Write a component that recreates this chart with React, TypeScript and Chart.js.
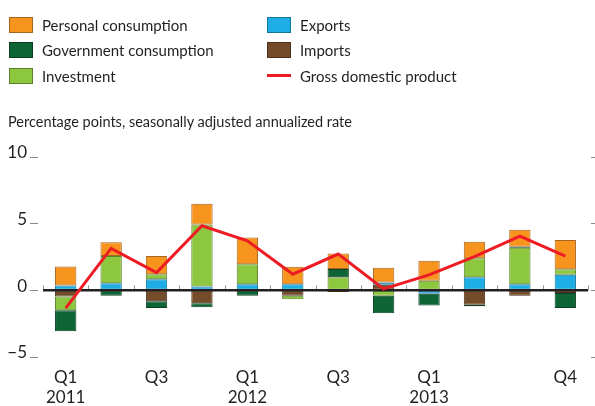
import React, { useEffect, useRef } from 'react';
import { Chart, registerables } from 'chart.js';

Chart.register(...registerables);

// ---------- data ----------
const categories: (string | string[])[] = [
  ['Q1', '2011'], '', 'Q3', '',
  ['Q1', '2012'], '', 'Q3', '',
  ['Q1', '2013'], '', '', 'Q4',
];
const personal = [1.42, 1.02, 1.37, 1.57, 2.01, 1.31, 1.17, 1.12, 1.51, 1.24, 1.29, 2.19];
const government = [-1.57, -0.41, -0.52, -0.3, -0.41, 0, 0.62, -1.3, -0.87, -0.12, 0.07, -1.12];
const investment = [-1.04, 2.04, 0.37, 4.65, 1.49, -0.25, 0.98, -0.41, 0.71, 1.42, 2.73, 0.42];
const exportsC = [0.36, 0.54, 0.83, 0.28, 0.46, 0.46, 0, 0.17, -0.26, 0.98, 0.46, 1.16];
const importsC = [-0.46, 0, -0.81, -0.96, 0, -0.41, -0.13, 0.41, 0, -1.08, -0.41, -0.2];
const gdp = [-1.33, 3.15, 1.33, 4.84, 3.72, 1.21, 2.72, 0.11, 1.16, 2.52, 4.07, 2.57];
const yTicks = [-5, 0, 5, 10];

const seriesLabels = {
  personal: 'Personal consumption',
  government: 'Government consumption',
  investment: 'Investment',
  exports: 'Exports',
  imports: 'Imports',
  gdp: 'Gross domestic product',
};
const subtitle = 'Percentage points, seasonally adjusted annualized rate';

// ---------- styles ----------
const TEXT = '#231f20';
const FONT = 'Lato';
const colors = {
  personal: { fill: '#f7941d', border: '#a8651f' },
  government: { fill: '#0d6535', border: '#0a3f22' },
  investment: { fill: '#8dc63f', border: '#5a8228' },
  exports: { fill: '#1eade4', border: '#15779d' },
  imports: { fill: '#754c29', border: '#4d3019' },
  gdp: { fill: '#ed1c24', border: '#ed1c24' },
};

const zeroLinePlugin = {
  id: 'zeroLine',
  beforeDatasetDraw(chart: any, args: any) {
    if (args.meta.type !== 'line') return;
    const { ctx, chartArea, scales } = chart;
    const x = scales.x;
    const y0 = scales.y.getPixelForValue(0);
    ctx.save();
    // category boundary ticks
    ctx.strokeStyle = '#9a9a9a';
    ctx.lineWidth = 1;
    const n = x.ticks.length;
    const half = (x.getPixelForValue(1) - x.getPixelForValue(0)) / 2;
    for (let i = 0; i <= n; i++) {
      const px = Math.round(x.getPixelForValue(i) - half) + 0.5;
      ctx.beginPath();
      ctx.moveTo(px, y0 - 5);
      ctx.lineTo(px, y0);
      ctx.stroke();
    }
    // zero line
    ctx.strokeStyle = TEXT;
    ctx.lineWidth = 2.5;
    ctx.beginPath();
    ctx.moveTo(chartArea.left, y0);
    ctx.lineTo(chartArea.right, y0);
    ctx.stroke();
    ctx.restore();
  },
};

function LegendItem({ left, top, label, color, line }: any) {
  return (
    <div style={{ position: 'absolute', left, top, height: 16, display: 'flex', alignItems: 'center' }}>
      {line ? (
        <div style={{ width: 24, height: 16, display: 'flex', alignItems: 'center' }}>
          <div style={{ width: 24, height: 2.5, background: color.fill }} />
        </div>
      ) : (
        <div
          style={{
            width: 22,
            height: 14,
            background: color.fill,
            border: `1px solid ${color.border}`,
          }}
        />
      )}
      <span
        style={{
          marginLeft: 9,
          fontFamily: FONT,
          fontSize: 15,
          lineHeight: '16px',
          color: TEXT,
          whiteSpace: 'nowrap',
        }}
      >
        {label}
      </span>
    </div>
  );
}

export default function App() {
  const ref = useRef<HTMLCanvasElement>(null);

  useEffect(() => {
    if (!ref.current) return;
    const bar = (key: keyof typeof colors, data: number[]) => ({
      type: 'bar' as const,
      label: (seriesLabels as any)[key],
      data,
      backgroundColor: colors[key].fill,
      borderColor: colors[key].border,
      borderWidth: 1,
      borderSkipped: false,
      barPercentage: 0.47,
      categoryPercentage: 1,
      yAxisID: 'y',
      stack: 'c',
      order: 1,
    });
    const chart = new Chart(ref.current, {
      data: {
        labels: categories,
        datasets: [
          {
            type: 'line',
            label: seriesLabels.gdp,
            data: gdp,
            borderColor: colors.gdp.fill,
            borderWidth: 3,
            pointRadius: 0,
            tension: 0,
            yAxisID: 'y',
            stack: 'gdp',
            order: 0,
          } as any,
          bar('imports', importsC),
          bar('exports', exportsC),
          bar('investment', investment),
          bar('government', government),
          bar('personal', personal),
        ],
      },
      options: {
        animation: false,
        responsive: false,
        maintainAspectRatio: false,
        layout: { padding: { top: 157, left: 0, right: 0, bottom: 0 } },
        plugins: { legend: { display: false }, tooltip: { enabled: false } },
        scales: {
          x: {
            stacked: true,
            grid: { display: false, drawTicks: false },
            border: { display: false },
            ticks: {
              autoSkip: false,
              maxRotation: 0,
              color: TEXT,
              font: { family: FONT, size: 17 },
              padding: 10,
            },
            afterFit: (s: any) => {
              s.height = 49;
            },
          },
          y: {
            stacked: true,
            min: -5,
            max: 10,
            afterBuildTicks: (s: any) => {
              s.ticks = yTicks.map((v) => ({ value: v }));
            },
            ticks: {
              color: TEXT,
              font: { family: FONT, size: 17 },
              padding: 3,
              labelOffset: -4,
              callback: (v: any) => (Number(v) < 0 ? '\u2212' + Math.abs(Number(v)) : String(v)),
            },
            grid: {
              drawOnChartArea: false,
              drawTicks: true,
              tickLength: 13,
              tickColor: '#8a8a8a',
              tickWidth: 1,
              tickBorderDash: [8, 20],
            },
            border: { display: false },
            afterFit: (s: any) => {
              s.width = 43;
            },
          },
          y2: {
            position: 'right',
            min: -5,
            max: 10,
            afterBuildTicks: (s: any) => {
              s.ticks = yTicks.map((v) => ({ value: v }));
            },
            ticks: { display: false },
            grid: {
              drawOnChartArea: false,
              drawTicks: true,
              tickLength: 7,
              tickColor: '#8a8a8a',
              tickWidth: 1,
              tickBorderDash: [0, 3, 4, 0],
            },
            border: { display: false },
            afterFit: (s: any) => {
              s.width = 7;
            },
          },
        },
      } as any,
      plugins: [zeroLinePlugin],
    });
    return () => chart.destroy();
  }, []);

  return (
    <div style={{ position: 'fixed', left: 0, top: 0, width: 595, height: 406, background: '#fff', overflow: 'hidden' }}>
      <canvas ref={ref} width={595} height={406} style={{ position: 'absolute', left: 0, top: 0, width: 595, height: 406 }} />
      <LegendItem left={9} top={16.5} label={seriesLabels.personal} color={colors.personal} />
      <LegendItem left={9} top={42} label={seriesLabels.government} color={colors.government} />
      <LegendItem left={9} top={67.5} label={seriesLabels.investment} color={colors.investment} />
      <LegendItem left={267} top={16.5} label={seriesLabels.exports} color={colors.exports} />
      <LegendItem left={267} top={42} label={seriesLabels.imports} color={colors.imports} />
      <LegendItem left={267} top={67.5} label={seriesLabels.gdp} color={colors.gdp} line />
      <div
        style={{
          position: 'absolute',
          left: 8,
          top: 113,
          fontFamily: FONT,
          fontSize: 14.5,
          lineHeight: '18px',
          color: TEXT,
          whiteSpace: 'nowrap',
        }}
      >
        {subtitle}
      </div>
    </div>
  );
}
